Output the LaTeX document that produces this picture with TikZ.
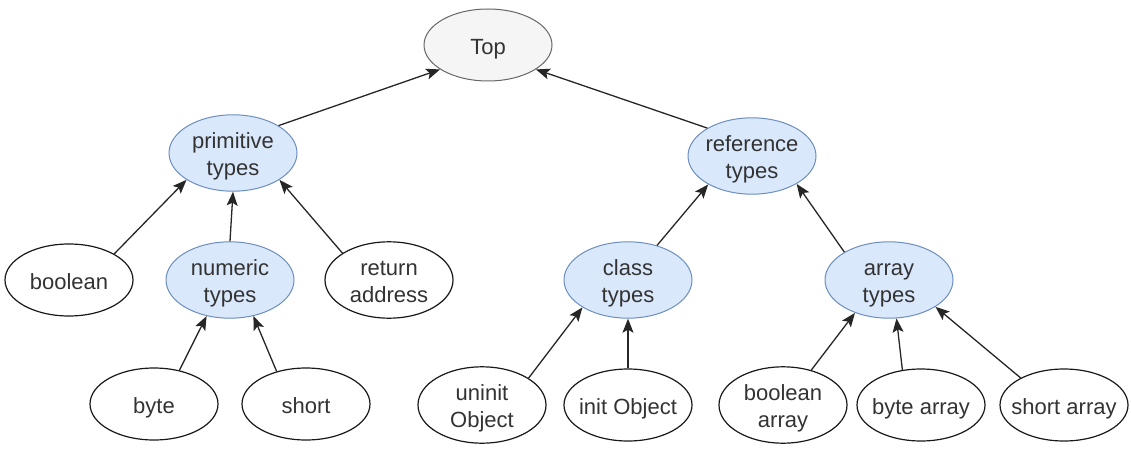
\documentclass[tikz,border=0pt]{standalone}
\usepackage{fontspec}
\setmainfont{Liberation Sans}
\usetikzlibrary{shapes.geometric,arrows.meta}
\definecolor{bfill}{HTML}{DAE8FC}
\definecolor{bdraw}{HTML}{6C8EBF}
\definecolor{gfill}{HTML}{F5F5F5}
\definecolor{gdraw}{HTML}{666666}
\definecolor{txtc}{HTML}{333333}
\newcommand{\elltext}[1]{\raisebox{-4pt}[\height][\depth]{\begin{tabular}{@{}c@{}}#1\end{tabular}}}
\begin{document}
\begin{tikzpicture}[x=1pt,y=-1pt,
  ell/.style={ellipse, draw=black!90, line width=1.2pt, fill=white,
    minimum width=128pt, minimum height=72pt, inner xsep=-14pt, inner ysep=0pt,
    font=\fontsize{22}{27}\selectfont, text=txtc},
  bluenode/.style={ell, fill=bfill, draw=bdraw, line width=1pt},
  graynode/.style={ell, fill=gfill, draw=gdraw, line width=1pt},
  arr/.style={-{Stealth[length=14pt,width=11pt,inset=3pt]}, line width=1.3pt, draw=black!85}
]
\useasboundingbox (0,0) rectangle (1131,473);

\node[graynode] (top) at (488,45) {\elltext{Top}};
\node[bluenode] (prim) at (233,153) {\elltext{primitive\\types}};
\node[bluenode] (ref) at (752,156) {\elltext{reference\\types}};
\node[ell] (bool) at (69,280) {\elltext{boolean}};
\node[bluenode] (num) at (230,280) {\elltext{numeric\\types}};
\node[ell] (ret) at (389,280) {\elltext{return\\address}};
\node[bluenode] (cls) at (628,280) {\elltext{class\\types}};
\node[bluenode] (arrt) at (889,280) {\elltext{array\\types}};
\node[ell] (byte) at (154,404) {\elltext{byte}};
\node[ell] (short) at (306,404) {\elltext{short}};
\node[ell] (uninit) at (482,405) {\elltext{uninit\\Object}};
\node[ell] (init) at (628,405) {\elltext{init Object}};
\node[ell] (barr) at (783,405) {\elltext{boolean\\array}};
\node[ell] (byarr) at (921,405) {\elltext{byte array}};
\node[ell] (sarr) at (1064,405) {\elltext{short array}};

\draw[arr] (prim.31) -- (top.207);
\draw[arr] (ref.148) -- (top.333);
\draw[arr] (bool.30) -- (prim.210);
\draw[arr] (num.north) -- (prim.south);
\draw[arr] (ret.150) -- (prim.330);
\draw[arr] (cls.50) -- (ref.213);
\draw[arr] (arrt.148) -- (ref.328);
\draw[arr] (byte.53) -- (num.237);
\draw[arr] (short.132) -- (num.303);
\draw[arr] (uninit.30) -- (cls.211);
\draw[arr] (init.north) -- (cls.south);
\draw[arr] (barr.51) -- (arrt.224);
\draw[arr] (byarr.118) -- (arrt.281);
\draw[arr] (sarr.148) -- (arrt.330);
\end{tikzpicture}
\end{document}
